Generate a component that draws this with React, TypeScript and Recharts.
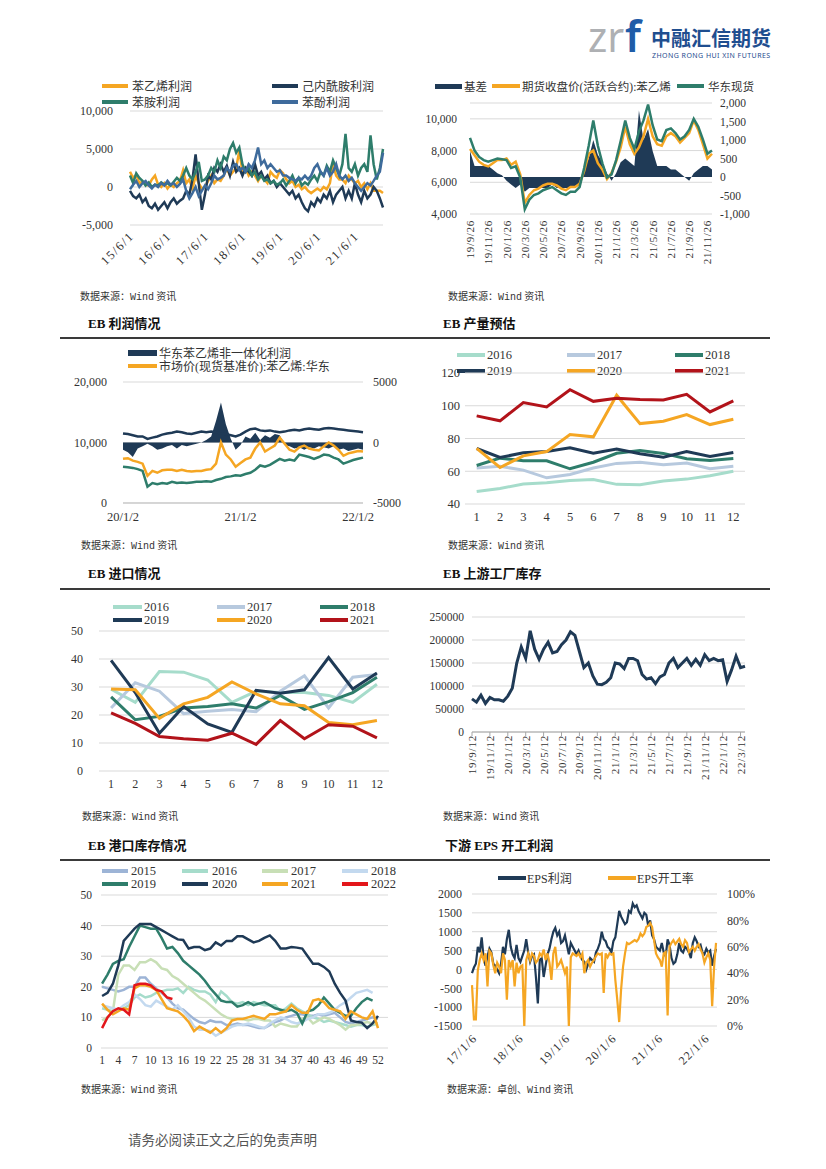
import React from 'react';
import { ComposedChart, Line, Area, XAxis, YAxis, CartesianGrid } from 'recharts';

const SERIF = '"Liberation Serif", "Times New Roman", "Noto Sans CJK SC", serif';
const CJK = '"Noto Sans CJK SC", sans-serif';

const ORANGE = '#F5A623';
const NAVY = '#1F3A56';
const TEAL = '#2E7D6B';
const BLUE = '#3E6B9C';
const LTEAL = '#A6DCCB';
const LGREY = '#B7C9DE';
const RED = '#B2131A';
const GRID = '#D9D9D9';
const INK = '#333333';

// ---- 苯乙烯及下游利润 (monthly, 15/6 .. 22/3)
const profitTicks = [0, 12, 24, 36, 48, 60, 72];
const profitTickLabels = ['15/6/1', '16/6/1', '17/6/1', '18/6/1', '19/6/1', '20/6/1', '21/6/1'];
const styreneProfit = [
  2000, 1200, 1600, 500, 700, 300, 200, 1000, 1500, 300,
  0, 500, -200, 300, 0, 500, 800, 2200, 500, 1000,
  -300, 1500, 500, -200, 0, 800, 1500, 500, 1000, 800,
  1500, 2500, 1500, 2000, 2500, 4800, 2000, 2500, 1500, 2000,
  1500, 800, 1500, 1000, 500, 2000, 1500, 1200, 2200, 1800,
  1000, 500, 800, 0, 300, -300, 0, -500, -800, -500,
  -200, -500, 0, -300, 500, 3000, 1500, 1000, 1000, 500,
  1500, 1000, 500, 800, 0, 500, -300, 500, -500, -500,
  -500, -800,
];
const caprolactamProfit = [
  -500, -1200, -1500, -1000, -2000, -1500, -2500, -2800, -2200, -3000,
  -2500, -2000, -2800, -2000, -1500, -2200, -1800, -1500, -500, -1000,
  1000, 4300, 500, -3000, -1000, 1500, 1000, 2500, 2000, 3000,
  2000, 2800, 1500, 3300, 2000, 2500, 1500, 2500, 2000, 1500,
  3000, 1500, 2000, 1000, 1500, 500, 800, 0, 500, 0,
  -500, -1000, -500, -1500, -1000, -2000, -2800, -3200, -2000, -2500,
  -1500, -2000, -1000, -1500, -500, -2000, -1000, -500, 0, -1500,
  -500, -1500, 500, -1000, -2000, -500, -1500, -1000, 0, -500,
  -1500, -2700,
];
const anilineProfit = [
  1500, 500, 1800, 1200, 800, 200, 600, 0, 300, 200,
  600, 300, 500, 200, 700, 1200, 800, 1500, 2500, 1500,
  1000, 2000, 3300, 800, 1000, 1500, 2500, 2000, 3500, 2500,
  4000, 3500, 5000, 5800, 4500, 5200, 3000, 2000, 2500, 1500,
  2000, 1000, 1500, 800, 1000, 500, 800, 300, 500, 1000,
  200, 800, 1500, 500, 1200, 200, 600, 300, 1000, 1500,
  800, 2000, 1500, 2800, 2000, 3500, 2500, 1500, 3000, 7000,
  2500, 2000, 3000, 1500, 2500, 3000, 2000, 6800, 3000, 1000,
  2500, 5000,
];
const phenolProfit = [
  -300, 300, 800, 0, 500, 800, 200, -200, 300, 0,
  500, 200, 800, 300, 500, 0, 400, 1000, -500, -1500,
  -800, 0, -1200, -500, 200, -300, 500, 1500, 1000, 1200,
  1500, 2500, 2000, 2800, 3000, 2200, 2500, 2000, 3000, 2500,
  3500, 5200, 3000, 3500, 2500, 3000, 2500, 2000, 2200, 1500,
  1500, 1200, 1000, 800, 1200, 1000, 1500, 1000, 1500, 2500,
  3000, 2000, 1500, 2500, 1500, 2000, 3000, 1500, 1000, 1500,
  800, 1200, 500, 0, -500, 0, 500, 200, 800, 1500,
  2000, 4500,
];

// ---- 基差 / 期货 / 华东现货 (semi-monthly, 19/9/26 ..)
const basisTicks = [0, 4, 8, 12, 16, 20, 24, 28, 32, 36, 40, 44, 48, 52];
const basisTickLabels = ['19/9/26', '19/11/26', '20/1/26', '20/3/26', '20/5/26', '20/7/26', '20/9/26',
  '20/11/26', '21/1/26', '21/3/26', '21/5/26', '21/7/26', '21/9/26', '21/11/26'];
const futuresClose = [
  8100, 7700, 7300, 7100, 7000, 7200, 7400, 7400, 7500, 7100,
  7300, 6500, 4700, 5200, 5500, 5600, 5800, 5900, 5900, 5800,
  5600, 5500, 5700, 5700, 5900, 6700, 7800, 8000, 7200, 6800,
  6200, 6600, 7300, 8200, 9500, 8400, 7800, 8200, 8900, 10000,
  8900, 8400, 8300, 8900, 9100, 8900, 8500, 8800, 9100, 9900,
  9300, 8400, 7500, 7800,
];
const eastSpot = [
  8800, 8000, 7600, 7400, 7300, 7400, 7500, 7450, 7400, 6900,
  7000, 6300, 4300, 4900, 5200, 5300, 5500, 5600, 5700, 5500,
  5300, 5200, 5400, 5400, 5700, 6900, 8300, 9900, 8300, 7200,
  6300, 6500, 7400, 8600, 9900, 8800, 8100, 9200, 9900, 10900,
  9600, 8700, 8600, 9300, 9400, 9100, 8700, 8900, 9300, 10000,
  9500, 8700, 7800, 8000,
];
const basis = [
  700, 300, 300, 300, 300, 200, 100, 50, -100, -200,
  -300, -200, -400, -300, -300, -300, -300, -300, -200, -300,
  -300, -300, -300, -300, -200, 200, 500, 1000, 600, 400,
  100, -100, 100, 400, 500, 400, 300, 1800, 1000, 1300,
  700, 300, 300, 300, 200, 200, 100, 0, -100, 100,
  200, 300, 300, 200,
];

// ---- 非一体化利润 (semi-monthly, 20/1/2 ..)
const marginTicks = [0, 24, 48];
const marginTickLabels = ['20/1/2', '21/1/2', '22/1/2'];
const nonIntegratedProfit = [
  -600, -800, -1200, -500, -300, -100, -300, -600, -500, -300,
  -200, -500, -200, -300, -200, -100, 0, 200, 500, 1800,
  3300, 1500, 300, -600, -200, 500, 300, 800, 200, 600,
  400, 700, 600, -200, -300, -500, -400, -600, -400, -500,
  -300, -400, -500, -300, -600, -500, -700, -600, -500, -600,
];
const eastMarketPrice = [
  7300, 7400, 7000, 6800, 6500, 4500, 5300, 5000, 5400, 5500,
  5500, 5300, 5500, 5300, 5200, 5300, 5300, 5500, 5600, 6500,
  10000, 8000, 7200, 6000, 6600, 7200, 7500, 9000, 10000, 8500,
  9000, 9500, 10800, 9800, 8800, 8500, 9200, 9500, 9000, 8800,
  8700, 9400, 10000, 9500, 8800, 7800, 8200, 8400, 8600, 8500,
];
const costLine = [
  11500, 11400, 11200, 11000, 11000, 10600, 10800, 11000, 11300, 11500,
  11600, 11800, 11700, 11500, 11400, 11600, 11800, 11700, 11800, 11700,
  11500, 11400, 11200, 11000, 11300, 11800, 12200, 12300, 12000, 11900,
  12000, 11800, 11700, 11800, 12000, 12100, 12000, 12200, 12300, 12200,
  12100, 12300, 12400, 12300, 12200, 12100, 12000, 11900, 11800, 11700,
];
const lowerPrice = [
  6000, 5900, 5800, 5600, 5300, 2700, 3300, 3100, 3300, 3200,
  3500, 3300, 3400, 3300, 3400, 3500, 3500, 3600, 3500, 3800,
  4000, 4300, 4400, 4600, 4500, 4800, 5000, 5500, 6200, 6000,
  6300, 6800, 7300, 7000, 7200, 7000, 8000, 7800, 7600, 7300,
  7600, 8000, 7900, 7500, 7200, 6500, 6800, 7100, 7300, 7500,
];

// ---- 产量预估 (monthly by year)
const months = [1, 2, 3, 4, 5, 6, 7, 8, 9, 10, 11, 12];
const output2016 = [47.7, 49.5, 52.2, 53, 54.3, 55, 52, 51.7, 54, 55.2, 57.3, 60];
const output2017 = [62, 63, 60.7, 56, 58, 62, 64.8, 65.5, 64, 65, 61.5, 63];
const output2018 = [63.5, 68, 66.4, 66.4, 61.5, 65.5, 71, 72.7, 70.9, 67.6, 66.5, 67.8];
const output2019 = [73.9, 68.4, 71.3, 72, 74.3, 71, 73.5, 70.7, 68.6, 72, 69, 71.5];
const output2020 = [74, 62.3, 69.4, 72, 82.4, 81, 106.4, 89.1, 90.5, 94.6, 88.5, 91.8];
const output2021 = [93.8, 90.8, 101.9, 99.3, 109.8, 102.7, 104.6, 103.8, 103.5, 107, 96.2, 103];

// ---- 进口 (monthly by year)
const import2016 = [29.2, 24.5, 35.5, 35.3, 32.5, 24.5, 28.5, 28, 28, 27, 24.5, 31];
const import2017 = [22.5, 31.5, 28.5, 20.5, 21.3, 22, 21.2, 28.5, 34, 22.5, 33.5, 34.5];
const import2018 = [26.5, 18.3, 19.5, 22.5, 23, 24, 22.5, 27, 22, 24.8, 28, 33.5];
const import2019 = [39.5, 28, 13.5, 23, 16.8, 13.8, 28.8, 27.8, 29, 40.5, 29.3, 35];
const import2020 = [29.3, 29, 18.8, 24, 26.3, 31.8, 27.5, 24, 23.3, 17.3, 16.5, 18];
const import2021 = [20.8, 17, 12.3, 11.5, 11, 13.5, 9.5, 18, 11.5, 16.5, 16, 11.8];

// ---- 上游工厂库存 (semi-monthly, 19/9/12 ..)
const stockTicks = [0, 4, 8, 12, 16, 20, 24, 28, 32, 36, 40, 44, 48, 52, 56, 60];
const stockTickLabels = ['19/9/12', '19/11/12', '20/1/12', '20/3/12', '20/5/12', '20/7/12', '20/9/12', '20/11/12',
  '21/1/12', '21/3/12', '21/5/12', '21/7/12', '21/9/12', '21/11/12', '22/1/12', '22/3/12'];
const factoryStock = [
  72000, 65000, 80000, 62000, 75000, 70000, 70000, 67000, 78000, 95000,
  150000, 185000, 160000, 220000, 180000, 158000, 180000, 195000, 172000, 175000,
  190000, 200000, 218000, 210000, 175000, 140000, 150000, 122000, 104000, 103000,
  108000, 118000, 150000, 148000, 138000, 160000, 160000, 155000, 125000, 115000,
  118000, 105000, 120000, 125000, 150000, 160000, 140000, 150000, 160000, 145000,
  158000, 145000, 168000, 155000, 160000, 155000, 157000, 110000, 135000, 165000,
  140000, 143000,
];

// ---- 港口库存 (weekly by year)
const weekTicks = [1, 4, 7, 10, 13, 16, 19, 22, 25, 28, 31, 34, 37, 40, 43, 46, 49, 52];
const port2015 = [
  20, 19.5, 19, 18.5, 19, 20, 20, 23, 23, 21, 19.5, 18, 16.5, 14.5, 13, 12.5, 11, 9.5, 8.5, 8,
  9, 8.5, 8.5, 7.5, 7.5, 8, 7.5, 7.5, 7, 6.5, 6.5, 7.5, 8.5, 9, 10, 10.5, 11, 11, 10.5, 10.5,
  11, 10.5, 11, 11.5, 10, 8.5, 8, 8.5, 9, 9.5, 10, 9.5,
];
const port2016 = [
  13, 12.5, 12, 12.5, 13, 14, 16.5, 17.5, 16.5, 17, 18, 18.5, 19, 19, 19.5, 18, 20, 19, 18.5, 18.5,
  17.5, 15, 18.5, 17, 15, 14.5, 15, 14, 15, 14.5, 14, 14, 14, 12, 13, 14.5, 13, 12, 11, 10,
  9.5, 8.5, 9, 8.5, 8, 7.5, 7, 7.5, 7.5, 7, 7.5, 8,
];
const port2017 = [
  9, 10, 12, 24, 27, 27, 25.5, 28, 28, 29, 28, 26, 25.5, 23.5, 22.5, 21, 19.5, 18, 16.5, 15.5,
  14, 12.5, 11, 10, 9.5, 9.5, 9.5, 9, 9.5, 9.5, 9, 9, 7, 8, 7.5, 7, 7, 9.5, 10, 8,
  9, 10, 9.5, 8.5, 7.5, 6, 7.5, 7.5, 8, 8.5, 8, 8,
];
const port2018 = [
  14, 13.5, 13, 12.5, 14, 15, 17.5, 16, 14, 13.5, 15.5, 14.5, 13.5, 12.5, 14, 12, 10, 7, 6, 6,
  5.5, 4, 5, 6, 7, 7.5, 7.5, 8, 7.5, 7, 6.5, 8, 9, 10, 9.5, 8.5, 8, 8.5, 9.5, 10,
  11, 11, 11.5, 12.5, 14, 15, 16.5, 18, 18.5, 19, 18,
];
const port2019 = [
  21, 24, 27.5, 28.5, 29, 33, 36.5, 40, 39.5, 39, 39, 36, 32.5, 33, 31, 28.5, 27, 25.5, 24, 22,
  19.5, 17.5, 15.5, 15, 15, 13.5, 14, 15, 14, 14.5, 15, 14, 13, 12.5, 12, 12.5, 11.5, 8, 12, 12.5,
  14, 16.5, 14.5, 12.5, 11.5, 10.5, 10.5, 13, 15, 16.3, 15.5,
];
const port2020 = [
  17, 18, 21, 27, 35, 37, 39, 40.5, 40.5, 40.5, 39.5, 38.5, 37.5, 36.5, 35.5, 35.3, 32.5, 33, 33, 32,
  32.5, 34.5, 33.5, 35, 35, 36.5, 36.5, 35.5, 34.5, 35, 36, 36.8, 35, 32.5, 32.5, 33, 32.8, 32.5, 30, 27.5,
  27.5, 26.5, 25, 21, 18, 15.5, 9, 8.5, 8.3, 6.5, 8, 10.5,
];
const port2021 = [
  14.5, 12.5, 11, 12, 13, 12.5, 19.5, 20.5, 20.5, 20, 19, 16, 13, 12.5, 12, 10.5, 8.5, 5.5, 7, 6,
  5, 6.5, 5, 6.5, 9, 9.5, 9.5, 10, 10.5, 10, 9.5, 11, 11, 11.5, 12, 14, 12.5, 11.5, 11.5, 15.5,
  16, 15, 13, 12.5, 12, 9.5, 12, 11, 10, 9.5, 12, 6.5,
];
const port2022 = [6.5, 10, 12, 13, 12.5, 11, 20.5, 21, 21, 20.5, 19, 18.5, 16.5, 16];

// ---- EPS 利润 / 开工率 (semi-monthly, 17/1/6 ..)
const epsTicks = [0, 24, 48, 72, 96, 120];
const epsTickLabels = ['17/1/6', '18/1/6', '19/1/6', '20/1/6', '21/1/6', '22/1/6'];
const epsProfit = [
  -100, 50, 150, 600, 450, 850, 300, 100, 350, 550,
  450, 150, 100, 0, -100, 150, 600, 400, 800, 1050,
  600, 400, 300, 650, 300, 200, 350, 500, 800, 450,
  200, 350, 400, -200, -900, 250, 300, -200, 100, 400,
  550, 800, 1000, 1100, 900, 1000, 700, 750, 900, 650,
  400, 700, 600, 500, 400, 500, 350, 250, 200, 0,
  150, 300, 250, 200, 450, 550, 700, 1000, 800, 750,
  600, 550, 450, 750, 850, 1200, 1550, 1400, 1300, 1200,
  1250, 1550, 1500, 1750, 1650, 1700, 1550, 1450, 1350, 1500,
  1450, 1150, 1300, 900, 800, 600, 550, 500, 700, 450,
  350, 800, 650, 300, 150, 200, 400, 700, 500, 450,
  600, 550, 450, 300, 700, 850, 750, 600, 650, 450,
  400, 550, 450, 500, 100, 350, 550,
];
const epsRate = [
  31, 5, 5, 42, 50, 55, 50, 55, 30, 57,
  55, 46, 40, 48, 45, 40, 55, 50, 20, 50,
  45, 50, 30, 48, 40, 45, 46, 0, 50, 55,
  50, 55, 53, 48, 50, 55, 53, 58, 50, 55,
  48, 35, 55, 60, 45, 47, 50, 45, 40, 45,
  0, 52, 55, 54, 53, 55, 52, 55, 40, 48,
  50, 45, 48, 50, 53, 55, 54, 55, 25, 55,
  52, 55, 54, 55, 35, 20, 3, 28, 45, 55,
  63, 62, 63, 64, 65, 64, 66, 70, 68, 70,
  75, 76, 78, 75, 65, 55, 52, 50, 45, 55,
  56, 8, 60, 63, 65, 62, 64, 66, 62, 60,
  65, 63, 56, 58, 60, 57, 60, 62, 58, 55,
  48, 52, 55, 50, 15, 45, 63,
];

const profitRows = styreneProfit.map((v, i) => ({
  i, sm: v, cpl: caprolactamProfit[i], ani: anilineProfit[i], phe: phenolProfit[i],
}));
const basisRows = futuresClose.map((v, i) => ({ i, fut: v, spot: eastSpot[i], basis: basis[i] }));
const marginRows = nonIntegratedProfit.map((v, i) => ({
  i, profit: v, price: eastMarketPrice[i], top: costLine[i], low: lowerPrice[i],
}));
const outputRows = months.map((m, k) => ({
  m, a: output2016[k], b: output2017[k], c: output2018[k], d: output2019[k], e: output2020[k], f: output2021[k],
}));
const importRows = months.map((m, k) => ({
  m, a: import2016[k], b: import2017[k], c: import2018[k], d: import2019[k], e: import2020[k], f: import2021[k],
}));
const stockRows = factoryStock.map((v, i) => ({ i, v }));
const portRows = Array.from({ length: 52 }, (_, k) => ({
  w: k + 1,
  y15: port2015[k], y16: port2016[k], y17: port2017[k], y18: port2018[k],
  y19: port2019[k], y20: port2020[k], y21: port2021[k], y22: port2022[k],
}));
const epsRows = epsProfit.map((v, i) => ({ i, profit: v, rate: epsRate[i] }));

const comma = (v: number) => v.toLocaleString('en-US');
const tickFont = (size = 11.5) => ({ fontSize: size, fill: INK, fontFamily: SERIF });

function DateTick(props: any) {
  const { x, y, payload, ticks, labels, angle, off, dx = 0, size = 11, spacing = 0.7 } = props;
  const label = labels[ticks.indexOf(payload.value)];
  const tx = x + dx;
  const ty = y + off;
  return (
    <text x={tx} y={ty} transform={`rotate(${angle} ${tx} ${ty})`} textAnchor="end" dominantBaseline="central"
      fontSize={size} fill={INK} fontFamily={SERIF} letterSpacing={spacing}>
      {label}
    </text>
  );
}

function Key({ x, y, color, text, w = 27, h = 3.5, gap = 3, size = 12 }: any) {
  return (
    <div style={{ position: 'absolute', left: x, top: y - 9, height: 18, display: 'flex', alignItems: 'center', whiteSpace: 'nowrap' }}>
      <div style={{ width: w, height: h, background: color, marginRight: gap }} />
      <span style={{ fontSize: size, color: INK, fontFamily: SERIF }}>{text}</span>
    </div>
  );
}

function Title({ x, y, text }: any) {
  return (
    <div style={{ position: 'absolute', left: x, top: y - 9, fontSize: 13, fontWeight: 700, fontFamily: SERIF, color: '#111', whiteSpace: 'nowrap' }}>
      {text}
    </div>
  );
}

function Source({ x, y, prefix = '' }: any) {
  return (
    <div style={{ position: 'absolute', left: x, top: y - 7, fontSize: 10, color: INK, fontFamily: CJK, whiteSpace: 'nowrap' }}>
      数据来源：{prefix}<span style={{ fontFamily: '"Liberation Mono", monospace' }}>Wind</span> 资讯
    </div>
  );
}

function Rule({ y }: any) {
  return <div style={{ position: 'absolute', left: 60, top: y, width: 710, height: 1.5, background: '#3A3A3A' }} />;
}

function ProfitChart() {
  return (
    <div style={{ position: 'absolute', left: 60, top: 105 }}>
      <ComposedChart width={333} height={170} data={profitRows} margin={{ top: 6, right: 10, bottom: 0, left: 0 }}>
        <CartesianGrid vertical={false} stroke={GRID} />
        <XAxis type="number" dataKey="i" domain={[0, 81]} ticks={profitTicks} interval={0} height={50}
          axisLine={false} tickLine={false} tickSize={0}
          tick={(p: any) => <DateTick {...p} ticks={profitTicks} labels={profitTickLabels} angle={-45} off={7} dx={2} size={12.5} spacing={1.5} />} />
        <YAxis domain={[-5000, 10000]} ticks={[-5000, 0, 5000, 10000]} width={70} tickSize={0} tickMargin={17} interval={0}
          axisLine={false} tickLine={false} tickFormatter={comma} tick={tickFont(12)} />
        <Line dataKey="sm" stroke={ORANGE} strokeWidth={2.5} dot={false} isAnimationActive={false} />
        <Line dataKey="cpl" stroke={NAVY} strokeWidth={2.5} dot={false} isAnimationActive={false} />
        <Line dataKey="ani" stroke={TEAL} strokeWidth={2.5} dot={false} isAnimationActive={false} />
        <Line dataKey="phe" stroke={BLUE} strokeWidth={2.5} dot={false} isAnimationActive={false} />
      </ComposedChart>
    </div>
  );
}

function BasisChart() {
  return (
    <div style={{ position: 'absolute', left: 410, top: 97 }}>
      <ComposedChart width={362} height={167} data={basisRows} margin={{ top: 6, right: 0, bottom: 0, left: 0 }}>
        <CartesianGrid vertical={false} stroke={GRID} yAxisId="l" />
        <XAxis type="number" dataKey="i" domain={[0, 53]} ticks={basisTicks} interval={0} height={50}
          axisLine={false} tickLine={false} tickSize={0}
          tick={(p: any) => <DateTick {...p} ticks={basisTicks} labels={basisTickLabels} angle={-90} off={4} size={11} spacing={0.7} />} />
        <YAxis yAxisId="l" domain={[4000, 11000]} ticks={[4000, 6000, 8000, 10000]} width={60} tickSize={0} tickMargin={13} interval={0}
          axisLine={false} tickLine={false} tickFormatter={comma} tick={tickFont(11.5)} />
        <YAxis yAxisId="r" orientation="right" domain={[-1000, 2000]} ticks={[-1000, -500, 0, 500, 1000, 1500, 2000]} interval={0}
          width={60} tickSize={0} tickMargin={8} axisLine={false} tickLine={false} tickFormatter={comma} tick={tickFont(11.5)} />
        <Area yAxisId="r" dataKey="basis" baseValue={0} fill={NAVY} fillOpacity={1} stroke="none" isAnimationActive={false} />
        <Line yAxisId="l" dataKey="fut" stroke={ORANGE} strokeWidth={2.5} dot={false} isAnimationActive={false} />
        <Line yAxisId="l" dataKey="spot" stroke={TEAL} strokeWidth={2.5} dot={false} isAnimationActive={false} />
      </ComposedChart>
    </div>
  );
}

function MarginChart() {
  return (
    <div style={{ position: 'absolute', left: 63, top: 376 }}>
      <ComposedChart width={350} height={157} data={marginRows} margin={{ top: 6, right: 0, bottom: 0, left: 0 }}>
        <CartesianGrid vertical={false} stroke={GRID} yAxisId="l" />
        <XAxis type="number" dataKey="i" domain={[0, 49]} ticks={marginTicks} interval={0} height={30}
          axisLine={{ stroke: '#BFBFBF' }} tickLine={false} tickSize={0} tickMargin={9}
          tickFormatter={(v: number) => marginTickLabels[marginTicks.indexOf(v)]} tick={tickFont(12.5)} />
        <YAxis yAxisId="l" domain={[0, 20000]} ticks={[0, 10000, 20000]} width={60} tickSize={0} tickMargin={16} interval={0}
          axisLine={false} tickLine={false} tickFormatter={comma} tick={tickFont(12)} />
        <YAxis yAxisId="r" orientation="right" domain={[-5000, 5000]} ticks={[-5000, 0, 5000]} width={50} interval={0}
          tickSize={0} tickMargin={10} axisLine={false} tickLine={false} tick={tickFont(12)} />
        <Area yAxisId="r" dataKey="profit" baseValue={0} fill={NAVY} fillOpacity={1} stroke="none" isAnimationActive={false} />
        <Line yAxisId="l" dataKey="top" stroke={NAVY} strokeWidth={2.5} dot={false} isAnimationActive={false} />
        <Line yAxisId="l" dataKey="low" stroke={TEAL} strokeWidth={2.5} dot={false} isAnimationActive={false} />
        <Line yAxisId="l" dataKey="price" stroke={ORANGE} strokeWidth={2.5} dot={false} isAnimationActive={false} />
      </ComposedChart>
    </div>
  );
}

function YearLines({ rows, domain, ticks, left, top, width, height, gridLeft, fontSize }: any) {
  return (
    <div style={{ position: 'absolute', left, top }}>
      <ComposedChart width={width} height={height} data={rows} margin={{ top: 6, right: 5, bottom: 0, left: 0 }}>
        <CartesianGrid vertical={false} stroke={GRID} />
        <XAxis type="number" dataKey="m" domain={[0.5, 12.5]} ticks={months} interval={0} height={25}
          axisLine={false} tickLine={false} tickSize={0} tickMargin={8} tick={tickFont(fontSize)} />
        <YAxis domain={domain} ticks={ticks} width={gridLeft} tickSize={0} tickMargin={gridLeft === 45 ? 5 : 16} interval={0}
          axisLine={false} tickLine={false} tick={tickFont(fontSize)} />
        <Line dataKey="a" stroke={LTEAL} strokeWidth={3} dot={false} isAnimationActive={false} />
        <Line dataKey="b" stroke={LGREY} strokeWidth={3} dot={false} isAnimationActive={false} />
        <Line dataKey="c" stroke={TEAL} strokeWidth={3} dot={false} isAnimationActive={false} />
        <Line dataKey="d" stroke={NAVY} strokeWidth={3} dot={false} isAnimationActive={false} />
        <Line dataKey="e" stroke={ORANGE} strokeWidth={3} dot={false} isAnimationActive={false} />
        <Line dataKey="f" stroke={RED} strokeWidth={3} dot={false} isAnimationActive={false} />
      </ComposedChart>
    </div>
  );
}

function StockChart() {
  return (
    <div style={{ position: 'absolute', left: 412, top: 611 }}>
      <ComposedChart width={338} height={176} data={stockRows} margin={{ top: 6, right: 5, bottom: 0, left: 0 }}>
        <CartesianGrid vertical={false} stroke={GRID} />
        <XAxis type="number" dataKey="i" domain={[0, 61]} ticks={stockTicks} interval={0} height={55}
          axisLine={{ stroke: '#A6A6A6' }} tickLine={{ stroke: '#A6A6A6' }} tickSize={4}
          tick={(p: any) => <DateTick {...p} ticks={stockTicks} labels={stockTickLabels} angle={-90} off={-3} size={11} spacing={0.8} />} />
        <YAxis domain={[0, 250000]} ticks={[0, 50000, 100000, 150000, 200000, 250000]} width={60} tickSize={0} tickMargin={8} interval={0}
          axisLine={false} tickLine={false} tick={tickFont(11.5)} />
        <Line dataKey="v" stroke={NAVY} strokeWidth={3} dot={false} isAnimationActive={false} />
      </ComposedChart>
    </div>
  );
}

function PortChart() {
  const series: [string, string][] = [
    ['y15', '#9DB4D6'], ['y16', LTEAL], ['y17', '#C8DFB6'], ['y18', '#C3D9EF'],
    ['y19', TEAL], ['y20', NAVY], ['y21', ORANGE], ['y22', '#E3161B'],
  ];
  return (
    <div style={{ position: 'absolute', left: 61, top: 889 }}>
      <ComposedChart width={329} height={184} data={portRows} margin={{ top: 6, right: 2, bottom: 0, left: 0 }}>
        <CartesianGrid vertical={false} stroke={GRID} />
        <XAxis type="number" dataKey="w" domain={[0.8, 53.85]} ticks={weekTicks} interval={0} height={25}
          axisLine={false} tickLine={false} tickSize={0} tickMargin={8} tick={tickFont(11.5)} />
        <YAxis domain={[0, 50]} ticks={[0, 10, 20, 30, 40, 50]} width={40} tickSize={0} tickMargin={9} interval={0}
          axisLine={false} tickLine={false} tick={tickFont(11.5)} />
        {series.map(([k, c]) => (
          <Line key={k} dataKey={k} stroke={c} strokeWidth={2.5} dot={false} isAnimationActive={false} />
        ))}
      </ComposedChart>
    </div>
  );
}

function EpsChart() {
  return (
    <div style={{ position: 'absolute', left: 422, top: 888 }}>
      <ComposedChart width={345} height={188} data={epsRows} margin={{ top: 6, right: 0, bottom: 0, left: 0 }}>
        <CartesianGrid vertical={false} stroke={GRID} yAxisId="l" />
        <XAxis type="number" dataKey="i" domain={[0, 126.5]} ticks={epsTicks} interval={0} height={50}
          axisLine={false} tickLine={false} tickSize={0}
          tick={(p: any) => <DateTick {...p} ticks={epsTicks} labels={epsTickLabels} angle={-45} off={8} dx={3} size={12} spacing={1.2} />} />
        <YAxis yAxisId="l" domain={[-1500, 2000]} ticks={[-1500, -1000, -500, 0, 500, 1000, 1500, 2000]} width={50} interval={0}
          tickSize={0} tickMargin={10} axisLine={false} tickLine={false} tick={tickFont(12)} />
        <YAxis yAxisId="r" orientation="right" domain={[0, 100]} ticks={[0, 20, 40, 60, 80, 100]} width={50} interval={0}
          tickSize={0} tickMargin={10} axisLine={false} tickLine={false} tickFormatter={(v: number) => `${v}%`} tick={tickFont(12)} />
        <Line yAxisId="l" dataKey="profit" stroke={NAVY} strokeWidth={2.2} dot={false} isAnimationActive={false} />
        <Line yAxisId="r" dataKey="rate" stroke={ORANGE} strokeWidth={2.2} dot={false} isAnimationActive={false} />
      </ComposedChart>
    </div>
  );
}

function Logo() {
  return (
    <>
      <svg style={{ position: 'absolute', left: 580, top: 0 }} width={72} height={66}>
        <text x={8} y={52} fontSize={41} fontFamily='"Noto Sans", sans-serif' fill="#AEB0B3">zr</text>
        <text x={45} y={52} fontSize={43} fontFamily='"Noto Sans", sans-serif' fontWeight={600} fill="#1F5CA8">f</text>
      </svg>
      <div style={{ position: 'absolute', left: 651, top: 26, fontSize: 20, fontWeight: 700, fontFamily: CJK, color: '#1F4E8F', lineHeight: '24px', whiteSpace: 'nowrap' }}>
        中融汇信期货
      </div>
      <div style={{ position: 'absolute', left: 652, top: 51, fontSize: 7, fontFamily: '"Noto Sans", sans-serif', color: '#1F4E8F', letterSpacing: 0.45, whiteSpace: 'nowrap' }}>
        ZHONG RONG HUI XIN FUTURES
      </div>
    </>
  );
}

export default function App() {
  return (
    <div style={{ position: 'absolute', left: 0, top: 0, width: 826, height: 1169, background: '#fff', fontFamily: SERIF, overflow: 'hidden' }}>
      <Logo />

      {/* row 1 */}
      <Key x={102} y={86} color={ORANGE} text="苯乙烯利润" w={26} gap={4} />
      <Key x={272} y={86} color={NAVY} text="己内酰胺利润" w={26} gap={4} />
      <Key x={102} y={102} color={TEAL} text="苯胺利润" w={26} gap={4} />
      <Key x={272} y={102} color={BLUE} text="苯酚利润" w={26} gap={4} />
      <ProfitChart />
      <Source x={80} y={295} />

      <Key x={435} y={86} color={NAVY} text="基差" w={27} h={5} gap={2} size={11.5} />
      <Key x={492} y={86} color={ORANGE} text="期货收盘价(活跃合约):苯乙烯" w={28} gap={2} size={11.5} />
      <Key x={677} y={86} color={TEAL} text="华东现货" w={27} gap={4} size={11.5} />
      <BasisChart />
      <Source x={448} y={295} />

      <Title x={88} y={322} text="EB 利润情况" />
      <Title x={443} y={322} text="EB 产量预估" />
      <Rule y={337} />

      {/* row 2 */}
      <Key x={128} y={353} color={NAVY} text="华东苯乙烯非一体化利润" w={29} h={6} gap={2} />
      <Key x={128} y={366} color={ORANGE} text="市场价(现货基准价):苯乙烯:华东" w={29} gap={2} />
      <MarginChart />
      <Source x={81} y={544} />

      <Key x={457} y={355} color={LTEAL} text="2016" w={28} gap={2} size={12.5} />
      <Key x={567} y={355} color={LGREY} text="2017" w={28} gap={2} size={12.5} />
      <Key x={675} y={355} color={TEAL} text="2018" w={28} gap={2} size={12.5} />
      <Key x={457} y={371} color={NAVY} text="2019" w={28} gap={2} size={12.5} />
      <Key x={567} y={371} color={ORANGE} text="2020" w={28} gap={2} size={12.5} />
      <Key x={675} y={371} color={RED} text="2021" w={28} gap={2} size={12.5} />
      <YearLines rows={outputRows} domain={[40, 120]} ticks={[40, 60, 80, 100, 120]}
        left={420} top={367} width={330} height={162} gridLeft={45} fontSize={12.5} />
      <Source x={448} y={544} />

      <Title x={88} y={572} text="EB 进口情况" />
      <Title x={443} y={572} text="EB 上游工厂库存" />
      <Rule y={588} />

      {/* row 3 */}
      <Key x={113} y={607} color={LTEAL} text="2016" w={29} gap={2} size={12.5} />
      <Key x={217} y={607} color={LGREY} text="2017" w={28} gap={2} size={12.5} />
      <Key x={320} y={607} color={TEAL} text="2018" w={28} gap={2} size={12.5} />
      <Key x={113} y={620} color={NAVY} text="2019" w={29} gap={2} size={12.5} />
      <Key x={217} y={620} color={ORANGE} text="2020" w={28} gap={2} size={12.5} />
      <Key x={320} y={620} color={RED} text="2021" w={28} gap={2} size={12.5} />
      <YearLines rows={importRows} domain={[0, 50]} ticks={[0, 10, 20, 30, 40, 50]}
        left={59} top={625} width={335} height={171} gridLeft={40} fontSize={12} />
      <Source x={82} y={815} />

      <StockChart />
      <Source x={443} y={815} />

      <Title x={88} y={844} text="EB 港口库存情况" />
      <Title x={445} y={844} text="下游 EPS 开工利润" />
      <Rule y={859} />

      {/* row 4 */}
      <Key x={102} y={871} color="#9DB4D6" text="2015" w={26} gap={3} size={12.5} />
      <Key x={182} y={871} color={LTEAL} text="2016" w={26} gap={4} size={12.5} />
      <Key x={262} y={871} color="#C8DFB6" text="2017" w={26} gap={3} size={12.5} />
      <Key x={342} y={871} color="#C3D9EF" text="2018" w={26} gap={3} size={12.5} />
      <Key x={102} y={884} color={TEAL} text="2019" w={26} gap={3} size={12.5} />
      <Key x={182} y={884} color={NAVY} text="2020" w={26} gap={4} size={12.5} />
      <Key x={262} y={884} color={ORANGE} text="2021" w={26} gap={3} size={12.5} />
      <Key x={342} y={884} color="#E3161B" text="2022" w={26} gap={3} size={12.5} />
      <PortChart />
      <Source x={81} y={1088} />

      <Key x={498} y={878} color={NAVY} text="EPS利润" w={28} gap={1} />
      <Key x={608} y={878} color={ORANGE} text="EPS开工率" w={28} gap={1} />
      <EpsChart />
      <Source x={447} y={1088} prefix="卓创、" />

      <div style={{ position: 'absolute', left: 128, top: 1129, fontSize: 13.5, color: '#555', fontFamily: CJK, whiteSpace: 'nowrap' }}>
        请务必阅读正文之后的免责声明
      </div>
    </div>
  );
}
